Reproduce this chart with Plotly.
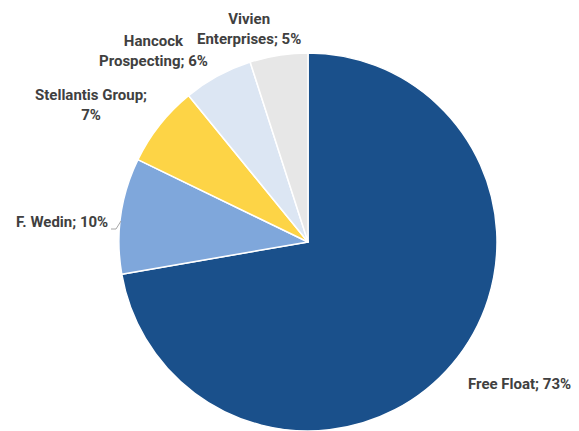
import plotly.graph_objects as go

labels = ["Free Float", "F. Wedin", "Stellantis Group", "Hancock Prospecting", "Vivien Enterprises"]
values = [73, 10, 7, 6, 5]
colors = ["#1A508B", "#7FA7DB", "#FDD446", "#DCE6F3", "#E7E7E7"]
# label text with line breaks as in the original
label_text = ["Free Float; 73%", "F. Wedin; 10%", "Stellantis Group;<br>7%", "Hancock<br>Prospecting; 6%", "Vivien<br>Enterprises; 5%"]
# label anchor positions in pixels (center x, center y)
label_pos = [(519, 384), (62, 222), (91, 105), (153, 51), (249, 29)]

W, H = 579, 431
cx, top, r = 308, 53, 189

fig = go.Figure(go.Pie(
    labels=labels, values=values, sort=False, direction="clockwise", rotation=0,
    marker=dict(colors=colors, line=dict(color="white", width=1.5)),
    textinfo="none", hoverinfo="label+value", showlegend=False,
    domain=dict(x=[(cx - r) / W, (cx + r) / W], y=[0, 1 - top / H]),
))

annotations = []
for t, (px, py) in zip(label_text, label_pos):
    annotations.append(dict(
        text=t, x=px / W, y=1 - py / H, xref="paper", yref="paper",
        xanchor="center", yanchor="middle", showarrow=False, align="center",
        font=dict(family="Roboto", size=15, color="#404040", weight="bold"),
    ))

fig.add_shape(type="path", xref="paper", yref="paper",
              path=f"M {111/W},{1-229/H} L {116/W},{1-229/H} L {121/W},{1-221/H}",
              line=dict(color="#A6A6A6", width=1))

fig.update_layout(
    width=W, height=H, margin=dict(l=0, r=0, t=0, b=0),
    paper_bgcolor="white", plot_bgcolor="white",
    annotations=annotations,
)

fig.write_html("out.html")
